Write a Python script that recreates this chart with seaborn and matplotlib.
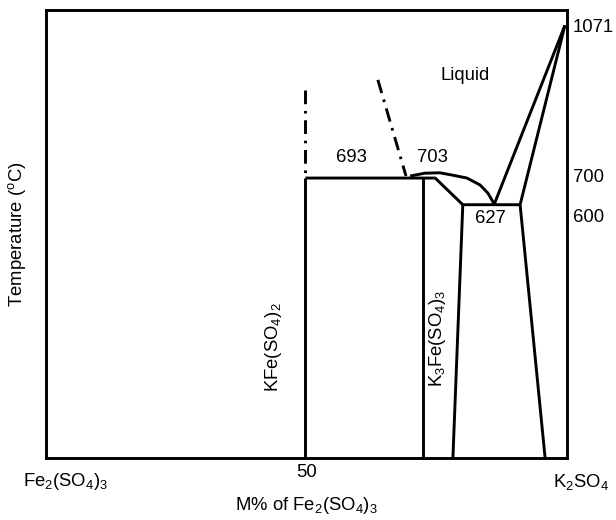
import matplotlib
matplotlib.use("Agg")
import matplotlib.pyplot as plt
import seaborn as sns
import pandas as pd

sns.set_theme(style="white")
plt.rcParams['font.family'] = ['Liberation Sans', 'DejaVu Sans']
plt.rcParams['mathtext.fontset'] = 'custom'
plt.rcParams['mathtext.rm'] = 'Liberation Sans'
plt.rcParams['mathtext.it'] = 'Liberation Sans'
plt.rcParams['mathtext.default'] = 'regular'
plt.rcParams['text.color'] = 'black'
plt.rcParams['axes.labelcolor'] = 'black'
plt.rcParams['xtick.color'] = 'black'
plt.rcParams['ytick.color'] = 'black'

# ---- data (composition %, temperature degC) ----
kfe_line_x = [49.8, 49.8]
kfe_line_t = [0, 693]
k3fe_line_x = [72.4, 72.4]
k3fe_line_t = [0, 693]
solidus_x = [49.8, 74.7, 80.0, 91.0]
solidus_t = [693, 693, 627, 627]
ss_left_x = [80.0, 78.1]
ss_left_t = [627, 0]
ss_right_x = [91.0, 95.8]
ss_right_t = [627, 0]
apex_a_x = [99.6, 86.0]
apex_a_t = [1071, 627]
apex_b_x = [99.6, 91.0]
apex_b_t = [1071, 627]
liquidus_x = [69.9, 72.7, 75.6, 78.1, 80.8, 83.3, 84.8, 85.8, 86.0]
liquidus_t = [698, 705, 706, 700, 693, 676, 656, 634, 627]
dash_v_x = [49.8, 49.8]
dash_v_t = [911, 705]
dash_s_x = [63.7, 69.1]
dash_s_t = [936, 698]

right_ticks = [1071, 700, 600]
bottom_ticks = [50]

solid_segments = [
    (kfe_line_x, kfe_line_t), (k3fe_line_x, k3fe_line_t),
    (solidus_x, solidus_t), (ss_left_x, ss_left_t), (ss_right_x, ss_right_t),
    (apex_a_x, apex_a_t), (apex_b_x, apex_b_t), (liquidus_x, liquidus_t),
]
dash_segments = [(dash_v_x, dash_v_t), (dash_s_x, dash_s_t)]

fig = plt.figure(figsize=(6.16, 5.2), dpi=100)
ax = fig.add_axes([46/616, 1-458/520, (567-46)/616, (458-10)/520])

LW = 2.1
for xs, ts in solid_segments:
    df = pd.DataFrame({"c": xs, "t": ts})
    sns.lineplot(data=df, x="c", y="t", sort=False, estimator=None,
                 color="black", lw=LW, ax=ax, solid_capstyle="butt")
for xs, ts in dash_segments:
    df = pd.DataFrame({"c": xs, "t": ts})
    sns.lineplot(data=df, x="c", y="t", sort=False, estimator=None,
                 color="black", lw=LW, ax=ax,
                 linestyle=(0, (4.7, 2.3, 0.9, 2.3)))

ax.set_xlim(0, 100)
ax.set_ylim(0, 1109)

for s in ax.spines.values():
    s.set_visible(True)
    s.set_color("black")
    s.set_linewidth(LW)

FS = 13.3
ax.yaxis.tick_right()
ax.set_yticks(right_ticks)
ax.set_yticklabels([str(v) for v in right_ticks])
ax.set_xticks(bottom_ticks)
ax.set_xticklabels([str(v) for v in bottom_ticks])
ax.tick_params(axis="both", length=0, labelsize=FS, colors="black")
ax.tick_params(axis="y", pad=4)
ax.tick_params(axis="x", pad=4)

ax.set_xlabel(r"M% of Fe$_2$(SO$_4$)$_3$", fontsize=FS, color="black", va="center")
ax.xaxis.set_label_coords(0.5, -(505 - 458) / 448)
ax.set_ylabel(r"Temperature ($^{o}$C)", fontsize=FS, color="black")
ax.yaxis.set_label_coords(-(46 - 17) / 521, 0.5)
ax.yaxis.label.set_verticalalignment("center")
ax.yaxis.label.set_horizontalalignment("center")

# compound end labels
ax.annotate(r"Fe$_2$(SO$_4$)$_3$", xy=(3.8, 0), xycoords=("data", "axes fraction"),
            xytext=(0, -24), textcoords="offset pixels", ha="center", va="center",
            fontsize=FS)
ax.annotate(r"K$_2$SO$_4$", xy=(102.6, 0), xycoords=("data", "axes fraction"),
            xytext=(0, -24), textcoords="offset pixels", ha="center", va="center",
            fontsize=FS, annotation_clip=False)

ax.text(80.4, 948, "Liquid", ha="center", va="center", fontsize=FS)
ax.text(58.7, 743, "693", ha="center", va="center", fontsize=FS)
ax.text(74.1, 743, "703", ha="center", va="center", fontsize=FS)
ax.text(85.2, 594, "627", ha="center", va="center", fontsize=FS)
ax.text(43.6, 275, r"KFe(SO$_4$)$_2$", ha="center", va="center", rotation=90, fontsize=FS)
ax.text(75.2, 297, r"K$_3$Fe(SO$_4$)$_3$", ha="center", va="center", rotation=90, fontsize=FS)

fig.savefig("out.png", dpi=100, facecolor="white")
